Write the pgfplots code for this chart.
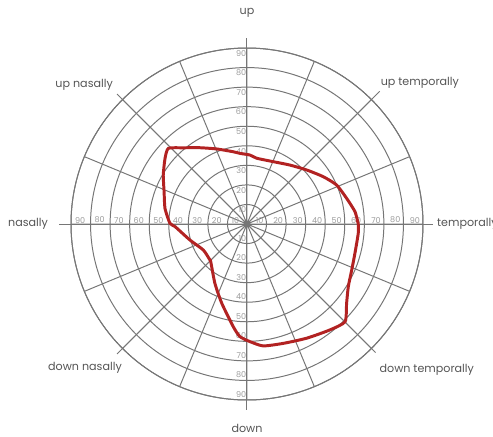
\documentclass[border=0pt]{standalone}
\usepackage{fontspec}
\setmainfont{Poppins}
\usepackage{pgfplots}
\pgfplotsset{compat=1.18}
\usepgfplotslibrary{polar}

\definecolor{gridgray}{RGB}{118,118,118}
\definecolor{txtgray}{RGB}{85,85,85}
\definecolor{ticklab}{RGB}{155,155,155}
\definecolor{fieldred}{RGB}{178,34,34}

% visual field boundary: angle (deg, 0 = temporal, 90 = up), eccentricity (deg)
\pgfplotstableread{
ang  ecc
0     56.9
6.5   55.6
14.5  52.6
23.5  50.0
31.8  45.9
42.1  41.2
53.9  37.3
67.1  34.6
81.6  34.0
87.5  35.3
95.7  36.3
100.7 37.6
112   41.4
121.6 45.8
129.9 50.8
136.1 55.8
141.3 53.7
149.7 49.6
158.7 45.5
169.2 42.7
179.5 39.4
182.1 36.8
195.7 30.3
210.8 26.0
224   26.4
226.3 26.8
241.6 34.5
252.3 42.5
262.4 53.0
266.4 57.7
271.5 60.2
277.6 62.9
286.9 63.8
297.6 65.9
308.1 68.8
315.1 70.8
321.5 65.1
328.3 60.9
336.3 58.5
344.8 57.2
355.2 57.1
360   56.9
}\fielddata

\begin{document}
\begin{tikzpicture}[
  tl/.style={font=\fontsize{6.5}{7}\selectfont, text=ticklab, inner sep=0.5pt},
  dl/.style={font=\fontsize{9}{10}\selectfont, text=txtgray, inner sep=0pt}]
\begin{polaraxis}[
  scale only axis, width=10cm, height=10cm,
  ymin=0, ymax=90,
  xtick={0,22.5,...,337.5}, ytick={10,20,...,90},
  xticklabels={}, yticklabels={},
  major tick length=0pt,
  grid=major,
  major grid style={gridgray, line width=0.8pt},
  axis line style={gridgray, line width=0.8pt},
  clip=false,
]
\coordinate (c) at (axis cs:0,0);
% main meridians reaching past the outer circle
\addplot[gridgray, line width=0.8pt] coordinates {(0,0) (0,95)};
\addplot[gridgray, line width=0.8pt] coordinates {(90,0) (90,95)};
\addplot[gridgray, line width=0.8pt] coordinates {(180,0) (180,96)};
\addplot[gridgray, line width=0.8pt] coordinates {(270,0) (270,95)};
\addplot[gridgray, line width=0.8pt] coordinates {(45,0) (45,96)};
\addplot[gridgray, line width=0.8pt] coordinates {(135,0) (135,94)};
\addplot[gridgray, line width=0.8pt] coordinates {(225,0) (225,94)};
\addplot[gridgray, line width=0.8pt] coordinates {(315,0) (315,93)};

\pgfplotsinvokeforeach{10,20,30,40,50,60,70,80,90}{
  \node[tl, anchor=south east, xshift=-1.8pt] at (axis cs:0,#1) {#1};
  \node[tl, anchor=south west, xshift=2.6pt] at (axis cs:180,#1) {#1};
  \node[tl, anchor=north east, yshift=-1.2pt] at (axis cs:90,#1) {#1};
  \node[tl, anchor=south east, yshift=1.2pt] at (axis cs:270,#1) {#1};
}

\addplot[fieldred, line width=2.4pt, smooth, tension=0.35] table[x=ang, y=ecc] {\fielddata};

\node[dl] at (axis cs:90,107.9) {up};
\node[dl] at (axis cs:270,104.3) {down};
\node[dl, anchor=east] at (axis cs:180,101.7) {nasally};
\node[dl, anchor=west] at (axis cs:0,97.1) {temporally};
\node[dl] at (axis cs:139.5,109.5) {up nasally};
\node[dl] at (axis cs:39.2,114.1) {up temporally};
\node[dl] at (axis cs:221.6,110.8) {down nasally};
\node[dl] at (axis cs:320.9,118.5) {down temporally};
\end{polaraxis}
\pgfresetboundingbox
\path[use as bounding box] (c) ++(-7.017cm,-6.051cm) rectangle ++(14.006cm,12.415cm);
\end{tikzpicture}
\end{document}
